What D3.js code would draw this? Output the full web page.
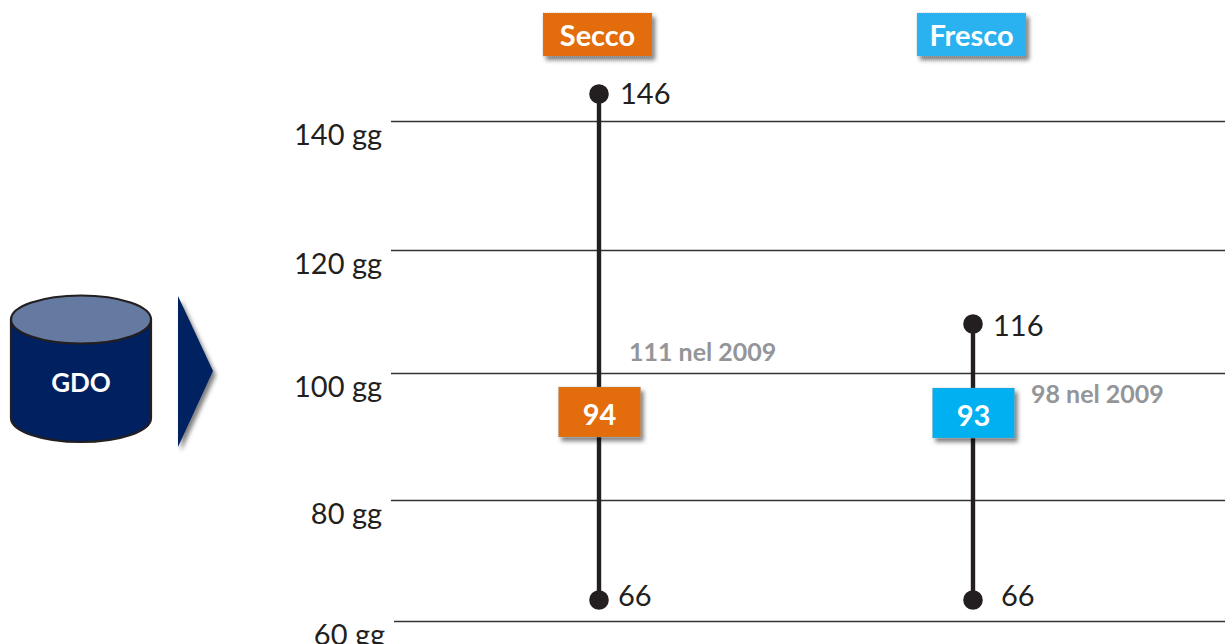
<!DOCTYPE html>
<html>
<head>
<meta charset="utf-8">
<script src="https://cdn.jsdelivr.net/npm/d3@7/dist/d3.min.js"></script>
<style>
  html, body { margin: 0; padding: 0; background: #fff; }
  svg { display: block; }
  text { font-family: Lato, "Open Sans", sans-serif; }
</style>
</head>
<body>
<svg id="chart" width="1225" height="644"></svg>
<script>
// Days of stock by product type, minimum / average / maximum
const channel = "GDO";
const categories = ["Secco", "Fresco"];
const minValues = [66, 66];
const avgValues = [94, 93];
const maxValues = [146, 116];
const notes = ["111 nel 2009", "98 nel 2009"];
const tickValues = [60, 80, 100, 120, 140];
const tickUnit = " gg";
const colours = ["#E36C0A", "#00B0F0"];
const headerColours = ["#E36C0A", "#2BB2F0"];

// The printed axis is schematic, not proportional: piecewise breakpoints
const axisKnots = [60, 66, 80, 93, 94, 100, 116, 120, 140, 146];
const axisPixels = [621, 600, 500, 413, 412, 373, 324, 250, 121, 94];

const svg = d3.select("#chart");
const y = d3.scaleLinear().domain(axisKnots).range(axisPixels);
const x = d3.scaleOrdinal().domain(categories).range([599, 973]);

const defs = svg.append("defs");
const shadow = defs.append("filter").attr("id", "shadow")
  .attr("x", "-20%").attr("y", "-20%").attr("width", "150%").attr("height", "160%");
shadow.append("feDropShadow").attr("dx", 3).attr("dy", 4)
  .attr("stdDeviation", 2).attr("flood-color", "#000").attr("flood-opacity", 0.5);

// Horizontal reference lines and their labels
const axis = d3.axisLeft(y)
  .tickValues(tickValues)
  .tickSize(0)
  .tickPadding(10)
  .tickFormat(d => d + tickUnit);
const axisG = svg.append("g").attr("transform", "translate(392,0)").call(axis);
axisG.select(".domain").remove();
axisG.selectAll(".tick").append("line")
  .attr("x1", -1).attr("x2", 1225 - 392).attr("y1", 0).attr("y2", 0)
  .attr("stroke", "#333").attr("stroke-width", 1.4);
axisG.selectAll(".tick text")
  .attr("x", -10).attr("y", 0).attr("dy", 23)
  .attr("font-size", 29).attr("font-family", "Lato, sans-serif")
  .attr("fill", "#231f20");
axisG.selectAll(".tick").filter(d => d === 60).attr("transform", `translate(3,${y(60) + 0.5})`);

// Cylinder for the channel
const cyl = svg.append("g");
cyl.append("path")
  .attr("d", "M11 320 V418 A70 24 0 0 0 151 418 V320 Z")
  .attr("fill", "#002060").attr("stroke", "#231f20").attr("stroke-width", 2.2);
cyl.append("ellipse")
  .attr("cx", 81).attr("cy", 319.5).attr("rx", 70).attr("ry", 24)
  .attr("fill", "#657AA0").attr("stroke", "#231f20").attr("stroke-width", 2.2);
cyl.append("text").attr("x", 81).attr("y", 392).attr("text-anchor", "middle")
  .attr("font-size", 26).attr("font-weight", 700).attr("fill", "#fff").text(channel);

// Chevron leading to the chart
svg.append("path").attr("d", "M178 296 L213 371 L178 447 Z")
  .attr("fill", "#002060").attr("filter", "url(#shadow)");

// One range per category
const rows = categories.map((c, i) => ({
  c, i, min: minValues[i], avg: avgValues[i], max: maxValues[i], note: notes[i]
}));

svg.append("g").selectAll("line").data(rows).join("line")
  .attr("x1", d => x(d.c)).attr("x2", d => x(d.c))
  .attr("y1", d => y(d.max)).attr("y2", d => y(d.min))
  .attr("stroke", "#231f20").attr("stroke-width", 4.4);

const ends = rows.flatMap(d => [
  { c: d.c, v: d.max, dx: 21, dy: 10 },
  { c: d.c, v: d.min, dx: d.i === 0 ? 19 : 28, dy: 6 }
]);
ends[2].dx = 20; ends[2].dy = 12;

svg.append("g").selectAll("circle").data(ends).join("circle")
  .attr("cx", d => x(d.c)).attr("cy", d => y(d.v)).attr("r", 9.8)
  .attr("fill", "#231f20");

svg.append("g").selectAll("text").data(ends).join("text")
  .attr("x", d => x(d.c) + d.dx).attr("y", d => y(d.v) + d.dy)
  .attr("font-size", 29).attr("fill", "#231f20")
  .text(d => d.v);

// Category headers
const headers = svg.append("g").selectAll("g").data(rows).join("g");
headers.append("rect")
  .attr("x", d => x(d.c) - (d.i === 0 ? 56 : 56)).attr("y", 13)
  .attr("width", 109).attr("height", 43)
  .attr("fill", d => headerColours[d.i])
  .attr("stroke", "#999").attr("stroke-width", 0.6).attr("stroke-dasharray", "1 1")
  .attr("filter", "url(#shadow)");
headers.append("text")
  .attr("x", d => x(d.c) - 1.5).attr("y", 46)
  .attr("text-anchor", "middle").attr("font-size", 29).attr("font-weight", 700)
  .attr("fill", "#fff").text(d => d.c);

// Average value boxes
const boxes = svg.append("g").selectAll("g").data(rows).join("g");
boxes.append("rect")
  .attr("x", d => x(d.c) - 40.5).attr("y", d => y(d.avg) - 25)
  .attr("width", 82).attr("height", 50)
  .attr("fill", d => colours[d.i])
  .attr("stroke", "#999").attr("stroke-width", 0.6).attr("stroke-dasharray", "1 1")
  .attr("filter", "url(#shadow)");
boxes.append("text")
  .attr("x", d => x(d.c) + 0.5).attr("y", d => y(d.avg) + 13)
  .attr("text-anchor", "middle").attr("font-size", 29).attr("font-weight", 700)
  .attr("fill", "#fff").text(d => d.avg);

// Previous-year notes
const noteAnchor = [[629, 361], [1031, 403]];
svg.append("g").selectAll("text").data(rows).join("text")
  .attr("x", d => noteAnchor[d.i][0]).attr("y", d => noteAnchor[d.i][1])
  .attr("font-size", 25).attr("font-weight", 700).attr("fill", "#939598")
  .text(d => d.note);
</script>
</body>
</html>
